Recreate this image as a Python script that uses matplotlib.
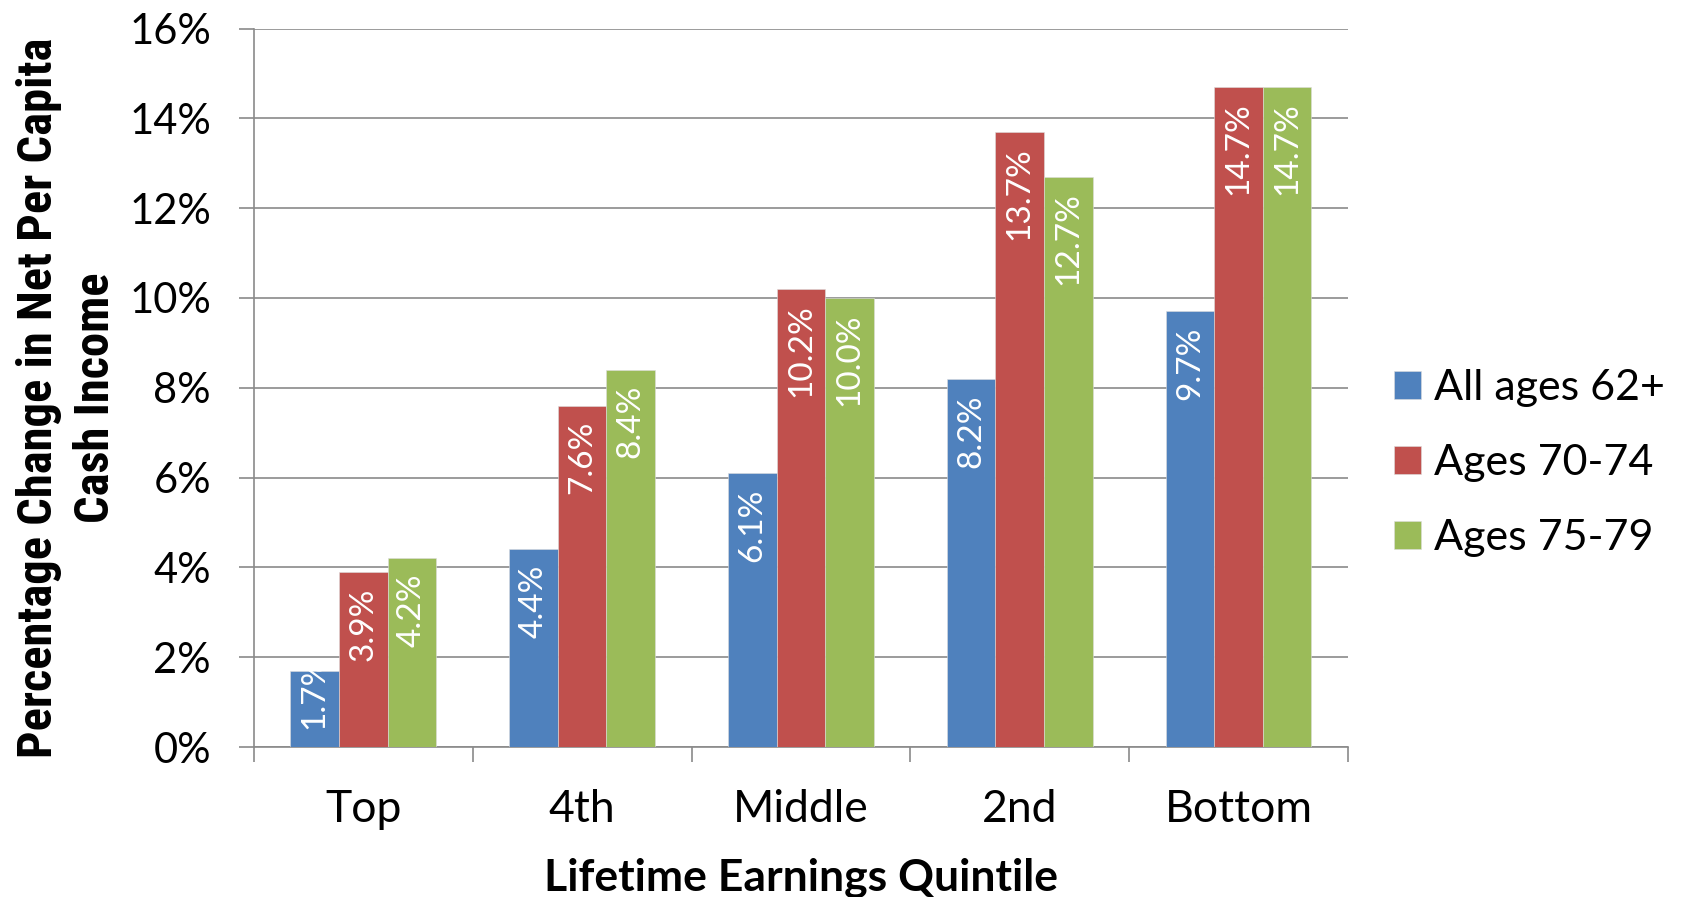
import numpy as np
import matplotlib
matplotlib.use('Agg')
from matplotlib import pyplot as plt
from matplotlib import font_manager
from matplotlib.ticker import FixedLocator, PercentFormatter

quintiles = ['Top', '4th', 'Middle', '2nd', 'Bottom']
series_names = ['All ages 62+', 'Ages 70-74', 'Ages 75-79']
all_62 = [1.7, 4.4, 6.1, 8.2, 9.7]
ages_70_74 = [3.9, 7.6, 10.2, 13.7, 14.7]
ages_75_79 = [4.2, 8.4, 10.0, 12.7, 14.7]
colors = ['#4F81BD', '#C0504D', '#9BBB59']

plt.rcParams['font.family'] = ['Lato', 'DejaVu Sans']
grid_c = '#8a8a8a'

# narrow bold face for the y label if one is around
names = {f.name for f in font_manager.fontManager.ttflist}
narrow = next((n for n in ['Liberation Sans Narrow', 'Roboto Condensed',
                           'Open Sans Condensed', 'DejaVu Sans Condensed']
               if n in names), None)

fig = plt.figure(figsize=(16.82, 8.97), dpi=100)
ax = fig.add_axes([0.151, 0.1672, 0.6504, 0.801])

x = np.arange(len(quintiles))
width = 1 / 4.5
for i, (vals, name) in enumerate(zip([all_62, ages_70_74, ages_75_79], series_names)):
    pos = x + (i - 1) * width
    ax.bar(pos, vals, width, color=colors[i], label=name,
           edgecolor='#dddddd', linewidth=0.4, zorder=3)
    for p, v in zip(pos, vals):
        if v < 2:
            # too short for the label, sit it near the base instead
            ax.annotate('{:.1f}%'.format(v), (p, 0), xytext=(0, 13),
                        textcoords='offset points', rotation=90,
                        ha='center', va='bottom', color='white', fontsize=24, zorder=4)
        else:
            ax.annotate('{:.1f}%'.format(v), (p, v), xytext=(0, -11),
                        textcoords='offset points', rotation=90,
                        ha='center', va='top', color='white', fontsize=24, zorder=4)

ax.set_xlim(-0.5, 4.5)
ax.set_ylim(0, 16)
ax.set_yticks(np.arange(0, 17, 2))
ax.yaxis.set_major_formatter(PercentFormatter(decimals=0))
ax.grid(axis='y', color=grid_c, linewidth=1.2, zorder=0)
ax.tick_params(axis='y', length=11, width=1.2, color=grid_c, labelsize=30, pad=20)

ax.set_xticks(x)
ax.set_xticklabels(quintiles)
ax.xaxis.set_minor_locator(FixedLocator(np.arange(-0.5, 5, 1)))
ax.tick_params(axis='x', which='major', length=0, labelsize=32, pad=30)
ax.tick_params(axis='x', which='minor', length=11, width=1.2, color=grid_c)

for s in ['top', 'right']:
    ax.spines[s].set_visible(False)
for s in ['left', 'bottom']:
    ax.spines[s].set_color(grid_c)
    ax.spines[s].set_linewidth(1.2)

ax.set_xlabel('Lifetime Earnings Quintile', fontsize=32, fontweight='bold', labelpad=20)
ylab_fam = [narrow, 'Lato'] if narrow else ['Lato']
ax.set_ylabel('Percentage Change in Net Per Capita\nCash Income', fontsize=35,
              fontweight='bold', family=ylab_fam, linespacing=1.32)
ax.yaxis.set_label_coords(-0.123, 0.486)

ax.legend(loc='center left', bbox_to_anchor=(1.0425, 0.395), frameon=False,
          fontsize=31, handlelength=0.62, handleheight=0.62, handletextpad=0.3,
          labelspacing=0.86, borderaxespad=0, borderpad=0)

fig.savefig('out.png', dpi=100)
